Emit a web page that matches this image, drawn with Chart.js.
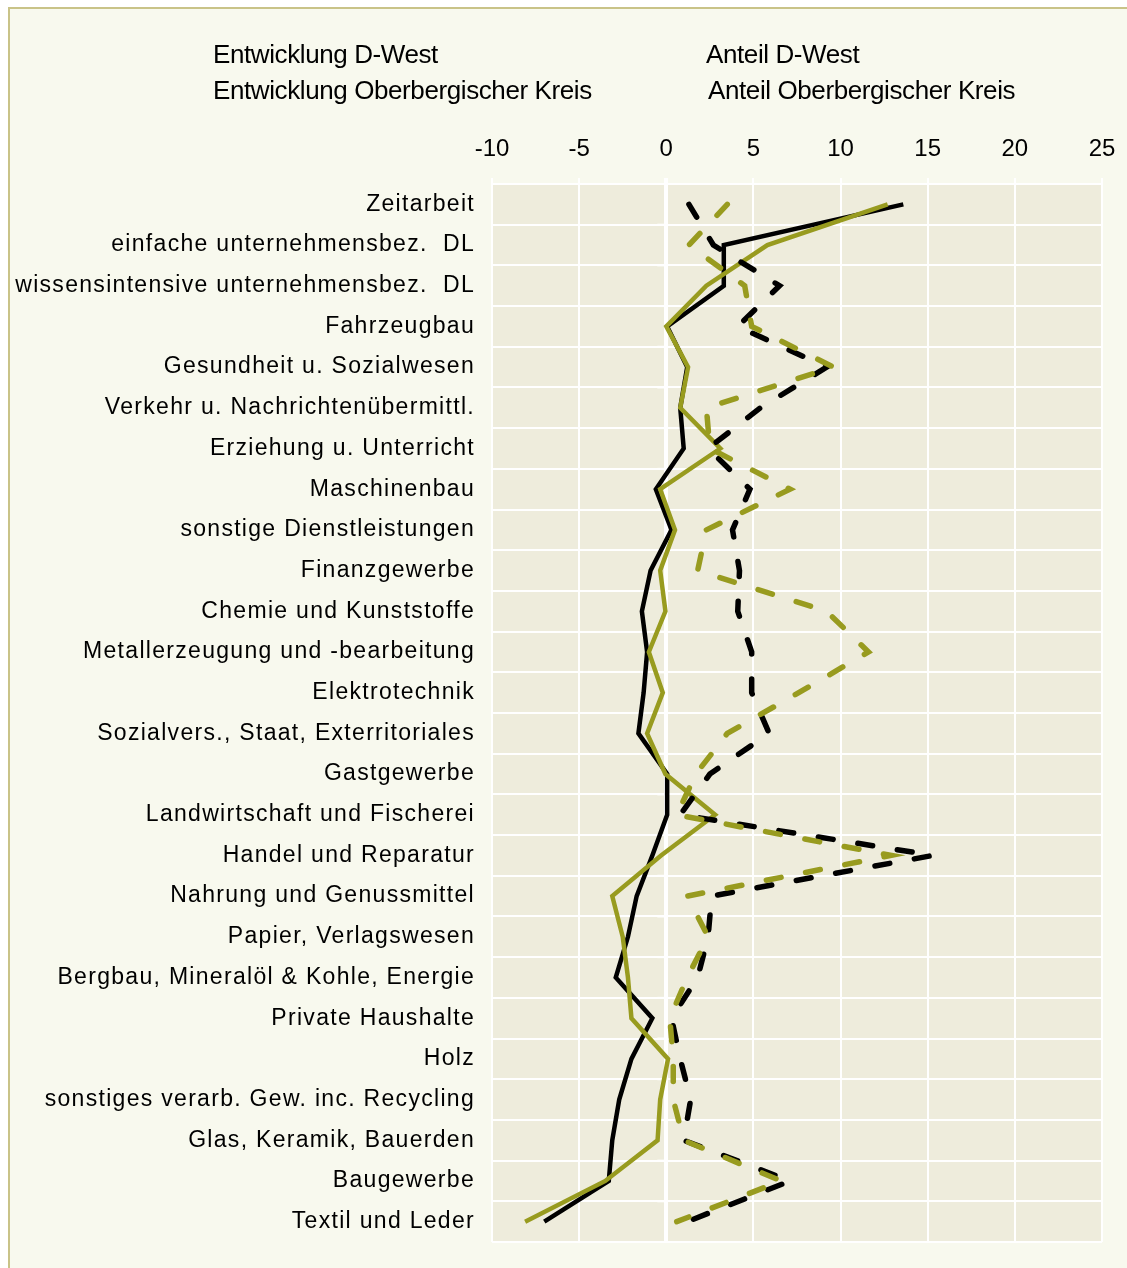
<!DOCTYPE html>
<html>
<head>
<meta charset="utf-8">
<script src="https://cdn.jsdelivr.net/npm/chart.js@4.4.1/dist/chart.umd.min.js"></script>
<style>
  html, body { margin: 0; padding: 0; background: #fff; overflow: hidden; }
  #frame {
    position: absolute; left: 8px; top: 7px; width: 1140px; height: 1280px;
    border: 2px solid #c9c388; background: #f8f9ee;
  }
  #wrap { position: absolute; left: 0; top: 0; width: 1127px; height: 1268px; }
</style>
</head>
<body>
<div id="frame"></div>
<div id="wrap"><canvas id="chart" width="1127" height="1268"></canvas></div>
<script>
// ---- data ----
const categories = [
  'Zeitarbeit',
  'einfache unternehmensbez.  DL',
  'wissensintensive unternehmensbez.  DL',
  'Fahrzeugbau',
  'Gesundheit u. Sozialwesen',
  'Verkehr u. Nachrichtenübermittl.',
  'Erziehung u. Unterricht',
  'Maschinenbau',
  'sonstige Dienstleistungen',
  'Finanzgewerbe',
  'Chemie und Kunststoffe',
  'Metallerzeugung und -bearbeitung',
  'Elektrotechnik',
  'Sozialvers., Staat, Exterritoriales',
  'Gastgewerbe',
  'Landwirtschaft und Fischerei',
  'Handel und Reparatur',
  'Nahrung und Genussmittel',
  'Papier, Verlagswesen',
  'Bergbau, Mineralöl & Kohle, Energie',
  'Private Haushalte',
  'Holz',
  'sonstiges verarb. Gew. inc. Recycling',
  'Glas, Keramik, Bauerden',
  'Baugewerbe',
  'Textil und Leder'
];

const entwicklungDWest = [13.6, 3.3, 3.3, 0.05, 1.2, 0.8, 1.0, -0.6, 0.3, -0.9, -1.4, -1.1, -1.3,
  -1.6, 0.05, 0.05, -0.8, -1.7, -2.2, -2.9, -0.8, -2.0, -2.7, -3.1, -3.3, -7.0];
const entwicklungOBK = [12.7, 5.8, 2.3, 0.0, 1.25, 0.8, 3.1, -0.35, 0.5, -0.35, -0.05, -1.0, -0.2,
  -1.1, -0.05, 2.8, -0.3, -3.1, -2.5, -2.2, -2.0, 0.1, -0.35, -0.5, -3.5, -8.1];
const anteilDWest = [1.3, 2.7, 6.5, 4.1, 9.2, 5.4, 2.4, 4.8, 3.8, 4.2, 4.1, 4.9, 4.9,
  5.9, 2.5, 0.8, 15.3, 2.6, 2.4, 1.8, 0.3, 0.8, 1.4, 1.0, 7.1, 1.2];
const anteilOBK = [3.5, 1.3, 4.5, 4.9, 9.6, 2.3, 2.5, 7.1, 2.3, 1.8, 9.2, 11.6, 7.6,
  3.5, 1.7, 0.6, 12.9, 1.2, 2.4, 1.2, 0.2, 0.4, 0.4, 1.0, 6.6, 0.6];

const xTicks = { min: -10, max: 25, step: 5 };

const OLIVE = '#989b1f';
const FONT = '"Liberation Sans", Arial, sans-serif';

// plot background
const plotBg = {
  id: 'plotBg',
  beforeDraw(chart) {
    const { ctx, chartArea: a } = chart;
    ctx.save();
    ctx.fillStyle = '#eeecdc';
    ctx.fillRect(a.left, a.top, a.right - a.left, a.bottom - a.top);
    ctx.restore();
  }
};

// small category ticks on the zero line, like the excel axis
const zeroAxisTicks = {
  id: 'zeroAxisTicks',
  beforeDatasetsDraw(chart) {
    const { ctx, scales } = chart;
    const x0 = scales.x.getPixelForValue(0);
    ctx.save();
    ctx.strokeStyle = '#fff';
    ctx.lineWidth = 2;
    for (let i = 0; i <= categories.length; i++) {
      const y = scales.y.getPixelForValue(i - 0.5);
      ctx.beginPath();
      ctx.moveTo(x0 - 9, y);
      ctx.lineTo(x0, y);
      ctx.stroke();
    }
    ctx.restore();
  }
};

// y labels are letter-spaced in the original
const spacedLabels = {
  id: 'spacedLabels',
  afterUpdate(chart) {
    const y = chart.scales.y;
    if (y._spaced) return;
    const orig = y.drawLabels;
    y.drawLabels = function (ca) {
      const ctx = this.ctx;
      ctx.save();
      ctx.letterSpacing = '1.3px';
      orig.call(this, ca);
      ctx.restore();
    };
    y._spaced = true;
  }
};

// text-only legend in two columns
const textLegend = {
  id: 'textLegend',
  afterDraw(chart) {
    const ctx = chart.ctx;
    const ds = chart.data.datasets;
    const spots = [[213, 56], [213, 92], [706, 56], [708, 92]];
    ctx.save();
    ctx.font = '26px ' + FONT;
    ctx.letterSpacing = '-0.4px';
    ctx.fillStyle = '#000';
    ctx.textBaseline = 'middle';
    ctx.textAlign = 'left';
    ds.forEach((d, i) => ctx.fillText(d.label, spots[i][0], spots[i][1]));
    ctx.restore();
  }
};

new Chart(document.getElementById('chart'), {
  type: 'line',
  data: {
    labels: categories,
    datasets: [
      { label: 'Entwicklung D-West', data: entwicklungDWest, borderColor: '#000', borderWidth: 4.5, order: 3 },
      { label: 'Entwicklung Oberbergischer Kreis', data: entwicklungOBK, borderColor: OLIVE, borderWidth: 4.5, order: 2 },
      { label: 'Anteil D-West', data: anteilDWest, borderColor: '#000', borderWidth: 5.5,
        borderDash: [15, 25], borderCapStyle: 'round', order: 1 },
      { label: 'Anteil Oberbergischer Kreis', data: anteilOBK, borderColor: OLIVE, borderWidth: 5.5,
        borderDash: [15, 25], borderCapStyle: 'round', order: 0 }
    ]
  },
  options: {
    indexAxis: 'y',
    responsive: false,
    animation: false,
    devicePixelRatio: 1,
    layout: { padding: { top: 121, right: 25, bottom: 26, left: 0 } },
    elements: {
      point: { radius: 0, hoverRadius: 0 },
      line: { tension: 0, fill: false, borderJoinStyle: 'miter' }
    },
    plugins: { legend: { display: false }, tooltip: { enabled: false } },
    scales: {
      x: {
        type: 'linear',
        position: 'top',
        min: xTicks.min,
        max: xTicks.max,
        ticks: { stepSize: xTicks.step, color: '#000', font: { family: FONT, size: 24 }, padding: 14 },
        grid: {
          color: '#fff',
          tickColor: '#fff',
          tickLength: 6,
          lineWidth: c => (c.tick && c.tick.value === 0 ? 4 : 2)
        },
        border: { display: false },
        afterFit(s) { s.height = 63; s.paddingLeft = 0; s.paddingRight = 0; }
      },
      y: {
        type: 'category',
        offset: true,
        ticks: { color: '#000', font: { family: FONT, size: 23 }, padding: 17, autoSkip: false },
        grid: { offset: true, color: '#fff', lineWidth: 2, drawTicks: false },
        border: { display: false },
        afterFit(s) { s.width = 492; s.paddingTop = 0; s.paddingBottom = 0; }
      }
    }
  },
  plugins: [plotBg, zeroAxisTicks, spacedLabels, textLegend]
});
</script>
</body>
</html>
